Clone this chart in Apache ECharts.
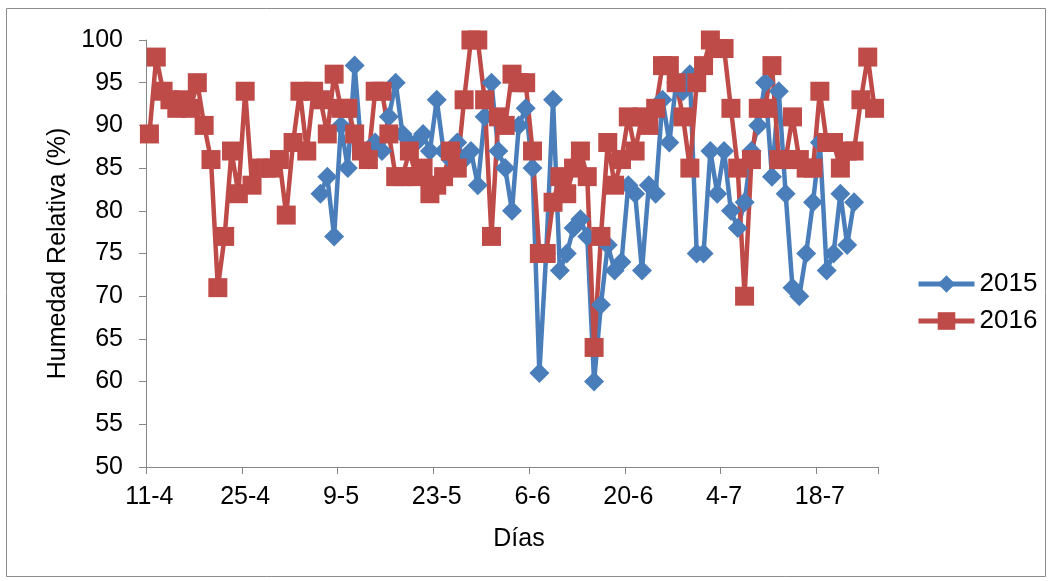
<!DOCTYPE html>
<html>
<head>
<meta charset="utf-8">
<script src="https://cdn.jsdelivr.net/npm/echarts@6/dist/echarts.min.js"></script>
<style>
html,body{margin:0;padding:0;background:#fff;}
#chart{width:1052px;height:581px;}
</style>
</head>
<body>
<div id="chart"></div>
<script>
// Categories: days from 11-4 to 26-7
const days = [
 '11-4','12-4','13-4','14-4','15-4','16-4','17-4','18-4','19-4','20-4',
 '21-4','22-4','23-4','24-4','25-4','26-4','27-4','28-4','29-4','30-4',
 '1-5','2-5','3-5','4-5','5-5','6-5','7-5','8-5','9-5','10-5',
 '11-5','12-5','13-5','14-5','15-5','16-5','17-5','18-5','19-5','20-5',
 '21-5','22-5','23-5','24-5','25-5','26-5','27-5','28-5','29-5','30-5','31-5',
 '1-6','2-6','3-6','4-6','5-6','6-6','7-6','8-6','9-6','10-6',
 '11-6','12-6','13-6','14-6','15-6','16-6','17-6','18-6','19-6','20-6',
 '21-6','22-6','23-6','24-6','25-6','26-6','27-6','28-6','29-6','30-6',
 '1-7','2-7','3-7','4-7','5-7','6-7','7-7','8-7','9-7','10-7',
 '11-7','12-7','13-7','14-7','15-7','16-7','17-7','18-7','19-7','20-7',
 '21-7','22-7','23-7','24-7','25-7','26-7'
];

// Relative humidity 2015 (starts 6-5, ends 24-7)
const hum2015 = [
 null,null,null,null,null,null,null,null,null,null,
 null,null,null,null,null,null,null,null,null,null,
 null,null,null,null,null,82,84,77,90,85,
 97,87,86,88,87,91,95,89,88,88,
 89,87,93,87,86,88,86,87,83,91,
 95,87,85,80,90,92,85,61,75,93,
 73,75,78,79,77,60,69,76,73,74,
 83,82,73,83,82,93,88,95,94,96,
 75,75,87,82,87,80,78,81,87,90,
 95,84,94,82,71,70,75,81,88,73,
 75,82,76,81,null,null,null
];

// Relative humidity 2016
const hum2016 = [
 89,98,94,93,92,93,92,95,90,86,
 71,77,87,82,94,83,85,85,85,86,
 79.5,88,94,87,94,93,89,96,92,92,
 89,87,86,94,94,89,84,84,87,84,
 85,82,83,84,87,85,93,100,100,93,
 77,91,90,96,95,95,87,75,75,81,
 84,82,85,87,84,64,77,88,83,86,
 91,87,91,90,92,97,97,95,91,85,
 95,97,100,99,99,92,85,70,86,92,
 92,97,86,86,91,86,85,85,94,88,
 88,85,87,87,93,98,92
];

const seriesNames = ['2015','2016'];
const yTicks = {min: 50, max: 100, step: 5};

const FONT = '"Liberation Sans", Arial, sans-serif';
const AXIS_GRAY = '#868686';
const BLUE = '#4A7EBB';
const RED = '#BE4B48';

const chart = echarts.init(document.getElementById('chart'), null, {renderer: 'canvas'});
chart.setOption({
  backgroundColor: '#ffffff',
  animation: false,
  textStyle: {fontFamily: FONT, color: '#000'},
  grid: {left: 146, right: 174, top: 40, bottom: 114, containLabel: false},
  graphic: [{
    type: 'rect',
    shape: {x: 6.5, y: 8.5, width: 1039, height: 568},
    style: {fill: 'none', stroke: '#8c8c8c', lineWidth: 1},
    silent: true, z: -1
  }],
  legend: {
    orient: 'vertical',
    left: 916,
    top: 271,
    padding: 0,
    itemWidth: 56,
    itemHeight: 22,
    itemGap: 11,
    data: seriesNames,
    lineStyle: {width: 5},
    textStyle: {fontFamily: FONT, fontSize: 26, color: '#000'}
  },
  xAxis: {
    type: 'category',
    data: days,
    boundaryGap: true,
    name: 'Días',
    nameLocation: 'middle',
    nameGap: 60,
    nameTextStyle: {fontFamily: FONT, fontSize: 25, color: '#000', padding: [0, 0, 0, 14]},
    axisLine: {show: true, lineStyle: {color: AXIS_GRAY, width: 1}},
    axisTick: {show: true, length: 7, interval: 13, alignWithLabel: false, lineStyle: {color: AXIS_GRAY}},
    axisLabel: {interval: 13, margin: 18, fontFamily: FONT, fontSize: 25, color: '#000'},
    splitLine: {show: false}
  },
  yAxis: {
    type: 'value',
    min: yTicks.min,
    max: yTicks.max,
    interval: yTicks.step,
    name: 'Humedad Relativa (%)',
    nameLocation: 'middle',
    nameGap: 74,
    nameTextStyle: {fontFamily: FONT, fontSize: 25, color: '#000'},
    axisLine: {show: true, lineStyle: {color: AXIS_GRAY, width: 1}},
    axisTick: {show: true, length: 7, lineStyle: {color: AXIS_GRAY}},
    axisLabel: {margin: 23, fontFamily: FONT, fontSize: 25, color: '#000'},
    splitLine: {show: false}
  },
  series: [
    {
      name: seriesNames[0],
      type: 'line',
      data: hum2015,
      connectNulls: false,
      symbol: 'diamond',
      symbolSize: 20,
      showAllSymbol: true,
      itemStyle: {color: BLUE},
      lineStyle: {color: BLUE, width: 4.5},
      emphasis: {disabled: true}
    },
    {
      name: seriesNames[1],
      type: 'line',
      data: hum2016,
      symbol: 'rect',
      symbolSize: 19,
      showAllSymbol: true,
      itemStyle: {color: RED},
      lineStyle: {color: RED, width: 4.5},
      emphasis: {disabled: true}
    }
  ]
});
</script>
</body>
</html>
